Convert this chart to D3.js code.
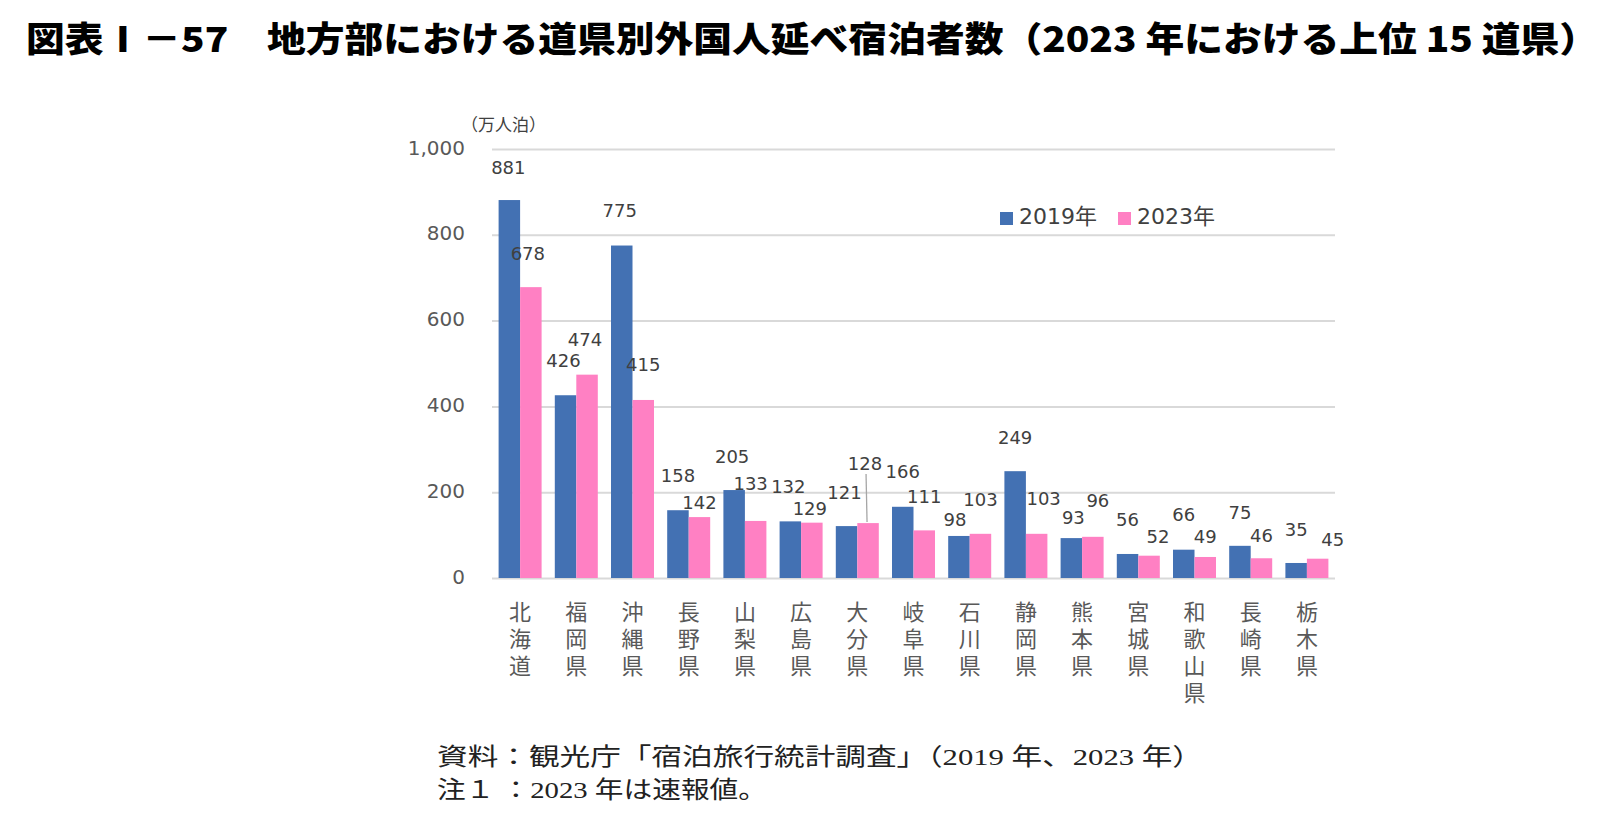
<!DOCTYPE html>
<html><head><meta charset="utf-8">
<script src="https://cdn.jsdelivr.net/npm/d3@7"></script>
<style>
html,body{margin:0;padding:0;background:#fff;}
svg{display:block;}
</style></head>
<body>
<script>
// ---- data ----
const categories = ["北海道","福岡県","沖縄県","長野県","山梨県","広島県","大分県","岐阜県","石川県","静岡県","熊本県","宮城県","和歌山県","長崎県","栃木県"];
const values2019 = [881,426,775,158,205,132,121,166,98,249,93,56,66,75,35];
const values2023 = [678,474,415,142,133,129,128,111,103,103,96,52,49,46,45];
const seriesNames = ["2019年","2023年"];
const yTicks = [0,200,400,600,800,1000];
const titleText = "図表Ⅰ－57　地方部における道県別外国人延べ宿泊者数（2023 年における上位 15 道県）";
const unitText = "（万人泊）";
const notes = ["資料：観光庁「宿泊旅行統計調査」（2019 年、2023 年）","注１ ：2023 年は速報値。"];

// ---- layout tweaks for data labels (label centre above bar top, x shift) ----
const lblDy2019 = [33,35,35,35,34,35,34,35,16,34,21,34,35,33,33];
const lblDx2019 = [-1,-2,-2,0,-2,-2,-2,0,-4,0,2,0,0,0,0];
const lblDy2023 = [34,35,35,15,37,14,60,34,34,35,36,19,20,23,19];
const lblDx2023 = [-3,-2,0,0,-5,-2,-3,0,0,7,5,9,0,0,15];

const W=1600,H=832;
const colors = ["#4371B3","#FF80C3"];
const svg = d3.select("body").append("svg").attr("width",W).attr("height",H);

const x = d3.scaleBand().domain(categories).range([492,1335]).paddingInner(0).paddingOuter(0);
const xs = d3.scaleBand().domain(seriesNames).range([0,x.bandwidth()]).paddingInner(0).paddingOuter(0.307);
const y = d3.scaleLinear().domain([0,1000]).range([578,149]);

// title
svg.append("text").attr("x",26).attr("y",52)
  .attr("font-family","'Noto Sans CJK JP','Liberation Sans Narrow',sans-serif")
  .attr("font-weight",900).attr("font-size",35).attr("fill","#000")
  .attr("textLength",1572).attr("lengthAdjust","spacingAndGlyphs")
  .text(titleText);

// gridlines
const yAxis = d3.axisLeft(y).tickValues(yTicks).tickSize(-(1335-492)).tickFormat(d3.format(","));
const gAxis = svg.append("g").attr("transform","translate(492,0)").call(yAxis);
gAxis.select(".domain").remove();
gAxis.selectAll(".tick line").attr("stroke","#D9D9D9").attr("stroke-width",2);
gAxis.selectAll(".tick text").attr("x",-27).attr("dy","0.25em")
  .attr("font-family","'DejaVu Sans',sans-serif").attr("font-size",20).attr("fill","#595959");

// unit label
svg.append("text").attr("x",461).attr("y",131)
  .attr("font-family","'Noto Sans CJK JP',sans-serif").attr("font-size",17).attr("fill","#404040")
  .text(unitText);

// bars
const seriesData = [values2019, values2023];
seriesData.forEach((vals,si)=>{
  svg.append("g").selectAll("rect").data(vals).join("rect")
    .attr("x",(d,i)=>x(categories[i])+xs(seriesNames[si]))
    .attr("width",xs.bandwidth())
    .attr("y",d=>y(d)).attr("height",d=>y(0)-y(d))
    .attr("fill",colors[si]);
});

// data labels
const dys=[lblDy2019,lblDy2023], dxs=[lblDx2019,lblDx2023];
seriesData.forEach((vals,si)=>{
  svg.append("g").selectAll("text").data(vals).join("text")
    .attr("x",(d,i)=>x(categories[i])+xs(seriesNames[si])+xs.bandwidth()/2+dxs[si][i])
    .attr("y",(d,i)=>y(d)-dys[si][i])
    .attr("dy","0.36em").attr("text-anchor","middle")
    .attr("font-family","'DejaVu Sans',sans-serif").attr("font-size",18).attr("fill","#404040")
    .text(d=>d);
});
// leader line for 大分県 2023
{
  const i = 6, si = 1;
  const cx = x(categories[i])+xs(seriesNames[si])+xs.bandwidth()/2-2;
  svg.append("line").attr("x1",cx).attr("x2",cx+1)
    .attr("y1",y(values2023[i])-lblDy2023[i]+11).attr("y2",y(values2023[i])-1)
    .attr("stroke","#A6A6A6").attr("stroke-width",1.3);
}

// category labels (vertical writing)
svg.append("g").selectAll("text").data(categories).join("text")
  .attr("x",d=>x(d)+x.bandwidth()/2).attr("y",601)
  .style("writing-mode","vertical-rl").style("text-orientation","upright")
  .style("letter-spacing","5px")
  .attr("font-family","'Noto Sans CJK JP',sans-serif").attr("font-size",22).attr("fill","#595959")
  .text(d=>d);

// legend
const lg = svg.append("g");
const legX=[1000,1118];
seriesNames.forEach((s,si)=>{
  lg.append("rect").attr("x",legX[si]).attr("y",212).attr("width",13).attr("height",13).attr("fill",colors[si]);
  lg.append("text").attr("x",legX[si]+19).attr("y",224)
    .attr("font-family","'DejaVu Sans','Noto Sans CJK JP',sans-serif").attr("font-size",22).attr("fill","#404040")
    .text(s);
});

// notes
svg.append("text").attr("x",437).attr("y",765)
  .attr("font-family","'Liberation Serif','Noto Sans CJK JP',serif").attr("font-size",24).attr("fill","#222")
  .attr("textLength",766).attr("lengthAdjust","spacingAndGlyphs")
  .text(notes[0]);
svg.append("text").attr("x",437).attr("y",798)
  .attr("font-family","'Liberation Serif','Noto Sans CJK JP',serif").attr("font-size",24).attr("fill","#222")
  .attr("textLength",330).attr("lengthAdjust","spacingAndGlyphs")
  .text(notes[1]);
</script>
</body></html>
